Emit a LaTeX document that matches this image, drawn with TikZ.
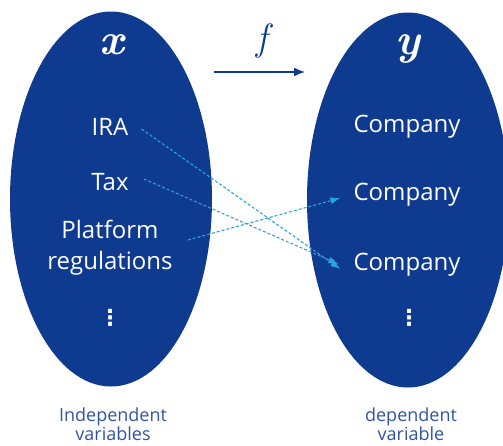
\documentclass[tikz,border=0pt]{standalone}
\usepackage{fontspec}
\setmainfont{Open Sans}
\newfontfamily\lmfont{Latin Modern Roman}
\newfontfamily\symfont{DejaVu Sans}
\usetikzlibrary{arrows.meta,shapes.geometric}
\definecolor{setblue}{RGB}{14,58,143}
\definecolor{mapblue}{RGB}{40,165,222}
\definecolor{capblue}{RGB}{48,84,162}
\begin{document}
\begin{tikzpicture}[x=1pt,y=-1pt,
  setshape/.style={ellipse,fill=setblue,minimum width=202,minimum height=375,inner sep=0},
  elem/.style={text=white,font=\fontsize{24}{31}\selectfont,inner sep=1,align=center},
  dotsym/.style={text=white,font=\symfont\bfseries\fontsize{22}{22}\selectfont,inner sep=0},
  varname/.style={text=white,font=\lmfont\bfseries\itshape\fontsize{44}{44}\selectfont},
  setcaption/.style={text=capblue,font=\fontsize{18}{15}\selectfont,align=center,inner sep=0},
  mapline/.style={mapblue,densely dashed,line width=1.1pt,-{Latex[length=10pt,width=7pt]}}]
\useasboundingbox (0,0) rectangle (503,445);
\node[setshape] (X) at (111,199) {};
\node[setshape] (Y) at (408,200) {};
\node[varname] (xl) at (112,45) {x};
\node[varname] (yl) at (408,49) {y};
\node[text=setblue,font=\lmfont\itshape\fontsize{38}{38}\selectfont] (fl) at (262,41) {f};
\coordinate (fa) at (214,72);
\coordinate (fb) at (305,72);
\draw[setblue,line width=1.5pt,-{Latex[length=11pt,width=9pt]}] (fa) -- (fb);
\node[elem] (ira) at (110,127) {IRA};
\node[elem] (tax) at (110,182) {Tax};
\node[elem] (plat) at (110,248) {Platform\\regulations};
\node[dotsym] (ld) at (110,318) {⋮};
\node[elem] (c1) at (407,127) {Company};
\node[elem] (c2) at (407,195) {Company};
\node[elem] (c3) at (407,265) {Company};
\node[dotsym] (rd) at (409,318) {⋮};
\draw[mapline] ([xshift=12pt,yshift=-2pt]ira.east) -- ([xshift=-12pt,yshift=-4pt]c3.west);
\draw[mapline] ([xshift=14pt,yshift=3pt]tax.east) -- ([xshift=-14pt,yshift=1pt]c3.west);
\draw[mapline] ([xshift=14pt,yshift=8pt]plat.east) -- ([xshift=-12pt,yshift=-3pt]c2.west);
\node[setcaption] (lc) at (113,424.5) {Independent\\variables};
\node[setcaption] (rc) at (411,424.5) {dependent\\variable};
\end{tikzpicture}
\end{document}
